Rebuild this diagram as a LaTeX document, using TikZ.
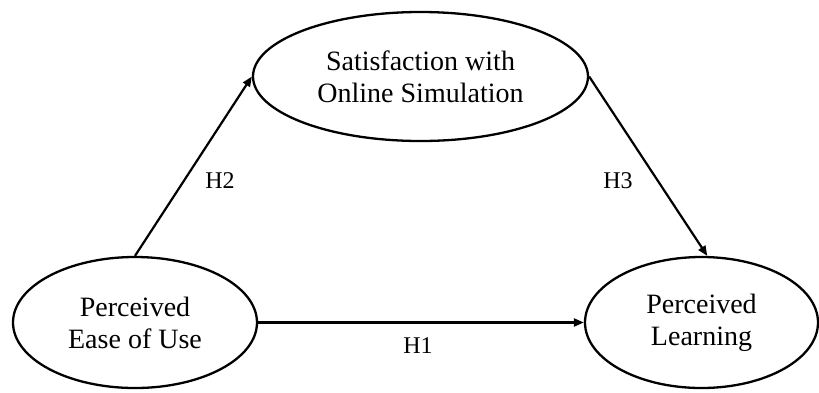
\documentclass[tikz,border=0pt]{standalone}
\usepackage{fontspec}
\setmainfont{Liberation Serif}
\usetikzlibrary{shapes.geometric,arrows.meta}

\tikzset{
  construct/.style={ellipse, draw=black, line width=2.3pt, inner sep=0pt,
    align=center, font=\fontsize{28}{32}\selectfont},
  path link/.style={draw=black, line width=2.2pt,
    -{Triangle[length=10pt,width=8pt]}},
  hyp/.style={font=\fontsize{24}{28}\selectfont, inner sep=0pt}
}

\begin{document}
\begin{tikzpicture}[x=1pt,y=-1pt]
  \useasboundingbox (0,0) rectangle (819,392);

  % the three constructs of the model
  \node[construct, minimum width=244pt, minimum height=131pt]
    (peou) at (135,322.5) {Perceived\\Ease of Use};
  \node[construct, minimum width=233pt, minimum height=131pt]
    (pl) at (701.5,322.5) {Perceived\\Learning};
  \node[construct, minimum width=335pt, minimum height=129pt]
    (sat) at (420.5,76.5) {Satisfaction with\\Online Simulation};

  % hypothesised paths
  \draw[path link] (peou.north) -- (sat.west);
  \draw[path link] (sat.east) -- (pl.85);
  \draw[path link] (peou.east) -- (pl.west);

  % path labels
  \node[hyp] (h2) at (220,181) {H2};
  \node[hyp] (h3) at (618,181) {H3};
  \node[hyp] (h1) at (418,346) {H1};
\end{tikzpicture}
\end{document}
